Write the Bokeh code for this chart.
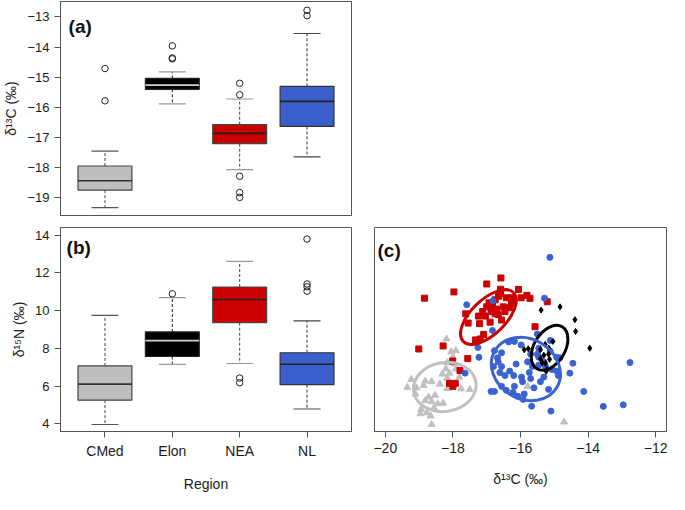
from bokeh.plotting import figure
from bokeh.layouts import column, row
from bokeh.models import FixedTicker, Range1d, Label
from bokeh.embed import file_html
from bokeh.resources import INLINE

# ---------------- data ----------------
regions = ["CMed", "Elon", "NEA", "NL"]

# panel (a): d13C boxplot stats
c13_lo = [-19.32, -15.88, -18.06, -17.64]
c13_q1 = [-18.74, -15.40, -17.20, -16.63]
c13_med = [-18.43, -15.26, -16.86, -15.80]
c13_q3 = [-17.94, -15.04, -16.57, -15.30]
c13_hi = [-17.45, -14.82, -15.72, -13.55]
c13_out_grp = [1, 1, 2, 2, 2, 3, 3, 3, 3, 3, 4, 4]
c13_out_val = [-14.71, -15.78, -13.96, -14.36, -14.39, -15.20, -15.58, -18.28, -18.82, -18.98, -12.78, -12.96]

# panel (b): d15N boxplot stats
n15_lo = [3.97, 7.15, 7.20, 4.79]
n15_q1 = [5.26, 7.57, 9.36, 6.08]
n15_med = [6.11, 8.41, 10.59, 7.16]
n15_q3 = [7.07, 8.87, 11.25, 7.77]
n15_hi = [9.75, 10.69, 12.61, 9.46]
n15_out_grp = [2, 3, 3, 4, 4, 4, 4]
n15_out_val = [10.89, 6.43, 6.18, 13.79, 11.41, 11.26, 11.03]

# panel (c): individual isotope values
cmed_c = [-18.19, -18.05, -17.91, -18.00, -18.17, -17.95, -18.21, -17.91, -18.10, -18.31, -17.81, -18.17,
          -19.23, -18.82, -18.63, -19.35, -19.08, -18.87, -18.39, -18.17, -17.76, -17.50, -18.53, -18.72,
          -18.63, -18.45, -18.82, -18.94, -18.77, -18.56, -18.96, -18.66, -18.63, -15.79, -14.71, -19.11, -18.29]
cmed_n = [8.50, 7.82, 7.88, 7.53, 7.24, 7.17, 6.91, 6.91, 6.69, 6.64, 6.48, 6.43,
          6.36, 6.27, 6.24, 5.94, 5.91, 6.04, 6.11, 5.88, 5.86, 5.82, 5.52, 5.43,
          5.18, 5.07, 5.23, 4.78, 4.59, 4.84, 4.54, 4.42, 3.97, 5.99, 4.10, 5.59, 5.10]

nea_c = [-16.58, -17.00, -17.97, -18.84, -16.59, -16.59, -16.06, -15.81, -15.72, -15.98, -15.21, -16.42,
         -16.25, -16.27, -16.32, -16.65, -16.75, -16.93, -16.83, -17.00, -16.71, -16.51, -16.87, -17.12,
         -16.75, -16.66, -16.46, -17.62, -17.21, -17.55, -16.90, -16.56, -17.04, -17.24, -17.09, -17.19,
         -17.33, -15.57, -19.01, -18.29, -18.01, -17.56, -17.79, -18.10, -17.93, -18.00]
nea_n = [11.73, 11.41, 10.99, 10.66, 11.13, 10.89, 11.12, 10.81, 10.65, 10.68, 10.47, 10.68,
         10.68, 10.36, 10.15, 10.76, 10.57, 10.41, 10.28, 10.20, 10.08, 10.20, 9.95, 9.95,
         9.83, 9.79, 9.95, 9.83, 9.31, 9.34, 9.39, 9.50, 9.71, 9.71, 8.74, 8.50,
         8.45, 9.15, 7.97, 8.13, 7.33, 7.46, 6.83, 6.15, 6.15, 5.99]

nl_c = [-15.13, -15.29, -17.59, -16.82, -16.83, -17.26, -17.23, -17.64, -15.50, -15.12, -16.77, -16.68,
        -16.56, -16.35, -16.18, -15.98, -15.46, -15.50, -15.12, -14.93, -14.83, -14.45, -12.76, -14.54,
        -14.13, -13.55, -12.96, -15.10, -15.67, -15.92, -16.08, -16.22, -16.42, -16.77, -16.87, -16.56,
        -16.18, -15.94, -15.74, -15.70, -15.60, -15.41, -15.17, -15.07, -14.93, -14.88, -16.32, -16.56,
        -16.66, -16.46, -16.20, -15.97, -15.89, -15.26, -15.46, -15.65, -15.79, -15.31, -16.13, -16.80,
        -16.61, -15.31, -15.46, -15.70]
nl_n = [12.82, 10.66, 10.31, 10.52, 8.95, 8.05, 7.53, 6.69, 8.76, 8.42, 7.88, 7.50,
        7.77, 8.34, 8.37, 8.18, 8.01, 7.69, 7.85, 7.53, 7.50, 7.21, 7.25, 6.69,
        5.72, 4.93, 5.01, 4.68, 4.94, 5.30, 5.46, 5.67, 5.78, 5.72, 5.72, 5.99,
        5.99, 6.24, 6.72, 6.40, 5.91, 6.24, 5.83, 6.88, 6.80, 6.56, 6.80, 7.04,
        7.29, 6.56, 6.56, 6.48, 5.59, 7.04, 7.12, 7.04, 7.29, 7.29, 7.17, 7.04,
        6.72, 6.48, 7.53, 7.69]

elon_c = [-14.83, -15.39, -14.39, -14.37, -15.04, -15.27, -15.89, -15.77, -15.41, -13.95, -15.16, -15.31,
          -15.41, -15.26, -15.22, -15.24, -15.36, -15.14, -15.17]
elon_n = [10.20, 10.03, 9.52, 8.90, 8.37, 8.21, 7.93, 7.98, 7.93, 8.01, 8.01, 7.64,
          7.45, 7.21, 6.88, 6.79, 7.24, 7.42, 7.69]

# standard ellipses: centre (mean) per region, order CMed, Elon, NEA, NL
ell_cx = [-18.24, -15.14, -16.95, -15.84]
ell_cy = [5.96, 8.03, 9.66, 6.91]
ell_major = [63, 49, 70, 72]      # screen px
ell_minor = [49, 31, 34.5, 60]
ell_angle = [0.15, 1.03, 0.77, -0.54]

# ---------------- style ----------------
FONT = "Liberation Sans"
TXT = "#1a1a1a"
FRAME = "#555555"
fills = ["#bebebe", "#000000", "#cc0000", "#3a5fcd"]
borders = ["#444444", "#222222", "#444444", "#333333"]
med_cols = ["#333333", "#d0d0d0", "#222222", "#222222"]
staple_cols = ["#555555", "#999999", "#999999", "#444444"]
pt_cols = {"CMed": "#c0c0c0", "Elon": "#000000", "NEA": "#cc0000", "NL": "#3a62d0"}
ell_cols = ["#c0c0c0", "#000000", "#cc0000", "#3a62d0"]


def minus(v):
    s = ("%g" % v)
    return s.replace("-", "\u2212")


def style(p):
    p.grid.visible = False
    p.outline_line_color = FRAME
    p.outline_line_width = 1
    p.background_fill_color = "white"
    p.border_fill_color = "white"
    for ax in p.xaxis + p.yaxis:
        ax.axis_line_color = FRAME
        ax.major_tick_line_color = FRAME
        ax.major_tick_out = 6
        ax.major_tick_in = 0
        ax.minor_tick_line_color = None
        ax.major_label_text_font = FONT
        ax.major_label_text_font_size = "13px"
        ax.major_label_text_color = TXT
        ax.major_label_standoff = 5
        ax.axis_label_text_font = FONT
        ax.axis_label_text_font_size = "14px"
        ax.axis_label_text_font_style = "normal"
        ax.axis_label_text_color = TXT


def boxplot(p, lo, q1, med, q3, hi, og, ov):
    xs = [i + 1 for i in range(len(regions))]
    p.segment(x0=xs, y0=q3, x1=xs, y1=hi, line_color=borders, line_dash="3 2", line_width=1)
    p.segment(x0=xs, y0=q1, x1=xs, y1=lo, line_color=borders, line_dash="3 2", line_width=1)
    p.segment(x0=[x - 0.2 for x in xs], y0=hi, x1=[x + 0.2 for x in xs], y1=hi,
              line_color=staple_cols, line_width=1.2)
    p.segment(x0=[x - 0.2 for x in xs], y0=lo, x1=[x + 0.2 for x in xs], y1=lo,
              line_color=staple_cols, line_width=1.2)
    p.vbar(x=xs, width=0.8, bottom=q1, top=q3, fill_color=fills, line_color=borders, line_width=1.2)
    p.segment(x0=[x - 0.4 for x in xs], y0=med, x1=[x + 0.4 for x in xs], y1=med,
              line_color=med_cols, line_width=1.6)
    p.scatter(x=og, y=ov, marker="circle", size=6.5, fill_color=None, line_color="#222222", line_width=1)


def panel_label(p, x, y, t):
    p.add_layout(Label(x=x, y=y, text=t, text_font=FONT, text_font_size="19px",
                       text_font_style="bold", text_color="#111111", text_baseline="alphabetic"))


# ---------------- panel (a) ----------------
pa = figure(width=362, height=226, output_backend="svg", toolbar_location=None,
            x_range=Range1d(0.34, 4.66), y_range=Range1d(-19.58, -12.49),
            min_border_left=60, min_border_right=11, min_border_top=1, min_border_bottom=11)
boxplot(pa, c13_lo, c13_q1, c13_med, c13_q3, c13_hi, c13_out_grp, c13_out_val)
style(pa)
pa.xaxis.visible = False
ya_ticks = [-19, -18, -17, -16, -15, -14, -13]
pa.yaxis.ticker = FixedTicker(ticks=ya_ticks)
pa.yaxis.major_label_overrides = {t: minus(t) for t in ya_ticks}
pa.yaxis.axis_label = "\u03b4\u00b9\u00b3C (\u2030)"
panel_label(pa, 0.46, -13.31, "(a)")

# ---------------- panel (b) ----------------
pb = figure(width=362, height=268, output_backend="svg", toolbar_location=None,
            x_range=Range1d(0.34, 4.66), y_range=Range1d(3.6, 14.4),
            min_border_left=60, min_border_right=11, min_border_top=1, min_border_bottom=56)
boxplot(pb, n15_lo, n15_q1, n15_med, n15_q3, n15_hi, n15_out_grp, n15_out_val)
style(pb)
pb.xaxis.ticker = FixedTicker(ticks=[1, 2, 3, 4])
pb.xaxis.major_label_overrides = {i + 1: r for i, r in enumerate(regions)}
pb.xaxis.axis_label = "Region"
pb.xaxis.major_label_text_font_size = "14px"
pb.xaxis.axis_label_standoff = 14
pb.yaxis.ticker = FixedTicker(ticks=[4, 6, 8, 10, 12, 14])
pb.yaxis.axis_label = "\u03b4\u00b9\u2075N (\u2030)"
panel_label(pb, 0.43, 13.35, "(b)")

# ---------------- panel (c) ----------------
pc = figure(width=307, height=268, output_backend="svg", toolbar_location=None,
            x_range=Range1d(-20.32, -11.68), y_range=Range1d(3.6, 14.4),
            min_border_left=12, min_border_right=3, min_border_top=1, min_border_bottom=56)
pc.scatter(cmed_c, cmed_n, marker="triangle", size=7, color=pt_cols["CMed"])
pc.scatter(nea_c, nea_n, marker="square", size=6, color=pt_cols["NEA"])
pc.scatter(nl_c, nl_n, marker="circle", size=6, color=pt_cols["NL"])
pc.scatter(elon_c, elon_n, marker="diamond", size=6, color=pt_cols["Elon"])
pc.ellipse(x=ell_cx, y=ell_cy, width=ell_major, height=ell_minor, angle=ell_angle,
           width_units="screen", height_units="screen",
           fill_color=None, line_color=ell_cols, line_width=3)
style(pc)
pc.yaxis.visible = False
xc_ticks = [-20, -18, -16, -14, -12]
pc.xaxis.ticker = FixedTicker(ticks=xc_ticks)
pc.xaxis.major_label_overrides = {t: minus(t) for t in xc_ticks}
pc.xaxis.major_label_text_font_size = "14px"
pc.xaxis.axis_label = "\u03b4\u00b9\u00b3C (\u2030)"
pc.xaxis.axis_label_standoff = 15
panel_label(pc, -20.23, 13.19, "(c)")

layout = column(pa, row(pb, pc))
open("out.html", "w").write(file_html(layout, INLINE))
